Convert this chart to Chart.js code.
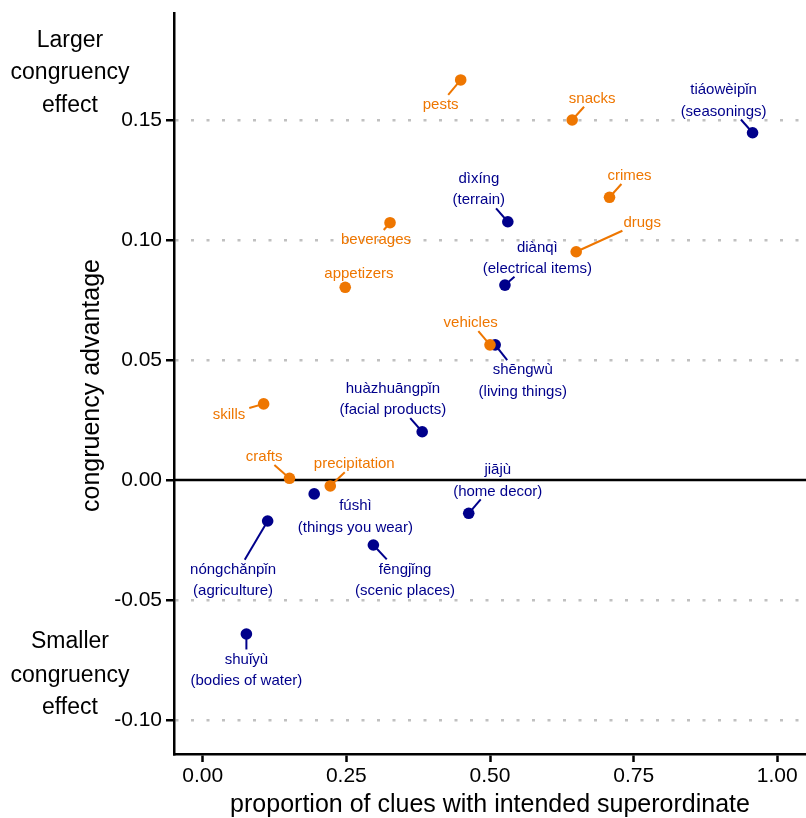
<!DOCTYPE html>
<html><head><meta charset="utf-8">
<script src="https://cdn.jsdelivr.net/npm/chart.js@4"></script>
<style>html,body{margin:0;padding:0;background:#fff;overflow:hidden}canvas{display:block}</style>
</head><body>
<canvas id="c" width="806" height="818"></canvas>
<script>
// ---- data ----
const orangeNames = ["pests","snacks","crimes","beverages","drugs","appetizers","vehicles","skills","crafts","precipitation"];
const orangeX = [0.449,0.643,0.708,0.326,0.650,0.248,0.500,0.106,0.151,0.222];
const orangeY = [0.1667,0.1500,0.1178,0.1072,0.0951,0.0803,0.0563,0.0317,0.0007,-0.0025];

const blueNames = ["tiáowèipǐn","dìxíng","diànqì","shēngwù","huàzhuāngpǐn","jiājù","fúshì","nóngchǎnpǐn","fēngjǐng","shuǐyù"];
const blueGloss = ["(seasonings)","(terrain)","(electrical items)","(living things)","(facial products)","(home decor)","(things you wear)","(agriculture)","(scenic places)","(bodies of water)"];
const blueX = [0.957,0.531,0.526,0.509,0.382,0.463,0.194,0.113,0.297,0.076];
const blueY = [0.1447,0.1076,0.0812,0.0563,0.0201,-0.0139,-0.0058,-0.0171,-0.0271,-0.0642];

const xTicks = [0, 0.25, 0.5, 0.75, 1];
const yTicks = [-0.10, -0.05, 0, 0.05, 0.10, 0.15];

const xTitle = "proportion of clues with intended superordinate";
const yTitle = "congruency advantage";
const topNote = ["Larger", "congruency", "effect"];
const bottomNote = ["Smaller", "congruency", "effect"];

// label placement (pixel offsets of label centre from its point)
const orangeLabelOffsets = [[-20,24],[20,-22.3],[20,-22.3],[-14,16.3],[66,-30],[13.7,-14.6],[-19.3,-22.7],[-34.6,10],[-25.3,-22.3],[24,-22.7]];
const blueLabelOffsets = [[-29,-33],[-29,-33.2],[32.4,-28],[27.6,35],[-29.3,-33.4],[29,-33.6],[41.2,21.8],[-34.6,58.5],[31.7,34.2],[0,35.2]];

// ---- styles ----
const ORANGE = '#ee7600';
const BLUE = '#00008b';
const FONT = "'Liberation Sans', Arial, Helvetica, sans-serif";
const LABEL_SIZE = 15;
const LINE_H = 21.5;

const datasetsMeta = [
  {color: ORANGE, lines: orangeNames.map(n => [n]), offsets: orangeLabelOffsets},
  {color: BLUE, lines: blueNames.map((n,i) => [n, blueGloss[i]]), offsets: blueLabelOffsets}
];

function labelBoxes(chart) {
  const ctx = chart.ctx;
  ctx.save();
  ctx.font = LABEL_SIZE + 'px ' + FONT;
  const out = [];
  datasetsMeta.forEach((dm, di) => {
    const meta = chart.getDatasetMeta(di);
    meta.data.forEach((pt, i) => {
      const lines = dm.lines[i];
      const w = Math.max(...lines.map(l => ctx.measureText(l).width));
      const cx = pt.x + dm.offsets[i][0];
      const cy = pt.y + dm.offsets[i][1];
      const hw = w / 2 + 4;
      const hh = (lines.length - 1) * LINE_H / 2 + 9;
      out.push({px: pt.x, py: pt.y, cx, cy, hw, hh, lines, color: dm.color});
    });
  });
  ctx.restore();
  return out;
}

const annotate = {
  id: 'annotate',
  beforeDatasetsDraw(chart) {
    const ctx = chart.ctx;
    const ca = chart.chartArea;
    const y0 = chart.scales.y.getPixelForValue(0);
    ctx.save();
    ctx.strokeStyle = '#000';
    ctx.lineWidth = 2.5;
    ctx.beginPath();
    ctx.moveTo(ca.left, y0);
    ctx.lineTo(ca.right, y0);
    ctx.stroke();
    // leader segments
    labelBoxes(chart).forEach(b => {
      const dx = b.cx - b.px, dy = b.cy - b.py;
      const tx = Math.abs(dx) > 1e-6 ? 1 - b.hw / Math.abs(dx) : -Infinity;
      const ty = Math.abs(dy) > 1e-6 ? 1 - b.hh / Math.abs(dy) : -Infinity;
      const t = Math.max(tx, ty);
      if (t <= 0) return;
      const ex = b.px + dx * t, ey = b.py + dy * t;
      const len = Math.hypot(ex - b.px, ey - b.py);
      if (len < 8) return;
      ctx.strokeStyle = b.color;
      ctx.lineWidth = 2;
      ctx.beginPath();
      ctx.moveTo(b.px, b.py);
      ctx.lineTo(ex, ey);
      ctx.stroke();
    });
    ctx.restore();
  },
  afterDatasetsDraw(chart) {
    const ctx = chart.ctx;
    ctx.save();
    ctx.font = LABEL_SIZE + 'px ' + FONT;
    ctx.textAlign = 'center';
    ctx.textBaseline = 'middle';
    labelBoxes(chart).forEach(b => {
      ctx.fillStyle = b.color;
      const n = b.lines.length;
      b.lines.forEach((l, k) => {
        ctx.fillText(l, b.cx, b.cy - (n - 1) * LINE_H / 2 + k * LINE_H + 1);
      });
    });
    ctx.restore();
  },
  afterDraw(chart) {
    const ctx = chart.ctx;
    const ca = chart.chartArea;
    ctx.save();
    ctx.fillStyle = '#000';
    ctx.font = '25px ' + FONT;
    ctx.textAlign = 'center';
    ctx.textBaseline = 'alphabetic';
    ctx.fillText(xTitle, (ca.left + ca.right) / 2, 812);
    ctx.save();
    ctx.translate(99, (ca.top + ca.bottom) / 2 + 2);
    ctx.rotate(-Math.PI / 2);
    ctx.fillText(yTitle, 0, 0);
    ctx.restore();
    ctx.font = '23px ' + FONT;
    const topBase = [46.7, 79.3, 112.3];
    const botBase = [647.7, 681.7, 714.3];
    topNote.forEach((t, i) => ctx.fillText(t, 70, topBase[i]));
    bottomNote.forEach((t, i) => ctx.fillText(t, 70, botBase[i]));
    ctx.restore();
  }
};

new Chart(document.getElementById('c').getContext('2d'), {
  type: 'scatter',
  data: {
    datasets: [
      {data: orangeX.map((x, i) => ({x, y: orangeY[i]})), backgroundColor: ORANGE, borderColor: ORANGE, borderWidth: 0, pointRadius: 5.8, pointHoverRadius: 5.8},
      {data: blueX.map((x, i) => ({x, y: blueY[i]})), backgroundColor: BLUE, borderColor: BLUE, borderWidth: 0, pointRadius: 5.8, pointHoverRadius: 5.8}
    ]
  },
  options: {
    responsive: false,
    animation: false,
    devicePixelRatio: 1,
    events: [],
    layout: {autoPadding: false, padding: {top: 13, right: 0, left: 0, bottom: 0}},
    plugins: {legend: {display: false}, tooltip: {enabled: false}},
    scales: {
      x: {
        type: 'linear', min: -0.05, max: 1.05,
        afterBuildTicks: s => { s.ticks = xTicks.map(v => ({value: v})); },
        afterFit: s => { s.height = 64; s.paddingLeft = 0; s.paddingRight = 0; },
        grid: {drawOnChartArea: false, drawTicks: true, tickLength: 8, tickColor: '#000', tickWidth: 2.5},
        border: {display: true, color: '#000', width: 2.5},
        ticks: {font: {family: FONT, size: 21}, color: '#000', padding: 2, maxRotation: 0, callback: v => Number(v).toFixed(2)}
      },
      y: {
        type: 'linear', min: -0.1142, max: 0.1946,
        afterBuildTicks: s => { s.ticks = yTicks.map(v => ({value: v})); },
        afterFit: s => { s.width = 174; s.paddingTop = 0; s.paddingBottom = 0; },
        grid: {
          drawOnChartArea: true, drawTicks: true, tickLength: 8, tickColor: '#000', tickWidth: 2.5, tickBorderDash: [],
          color: c => (c.tick && Math.abs(c.tick.value) < 1e-9) ? 'rgba(0,0,0,0)' : '#c0c0c0',
          lineWidth: 2.5
        },
        border: {display: true, color: '#000', width: 2.5, dash: [3, 12.5]},
        ticks: {font: {family: FONT, size: 21}, color: '#000', padding: 4, callback: v => Number(v).toFixed(2)}
      }
    }
  },
  plugins: [annotate]
});
</script>
</body></html>
